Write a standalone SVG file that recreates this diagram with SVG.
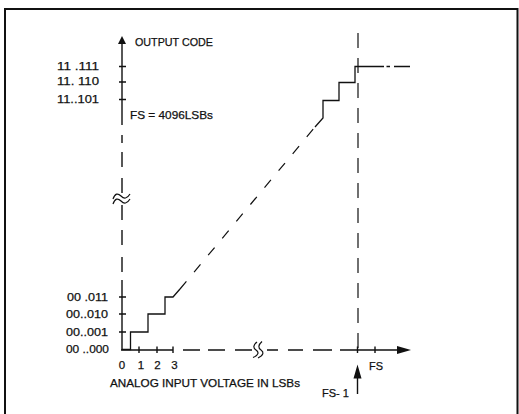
<svg xmlns="http://www.w3.org/2000/svg" width="519" height="414" viewBox="0 0 519 414">
<style>
text{font-family:"Liberation Sans Narrow","Liberation Sans",Arial,sans-serif;fill:#111;font-size:11.5px;stroke:#111;stroke-width:0.25}
.ax{stroke:#111;stroke-width:1.4;fill:none}
.st{stroke:#111;stroke-width:1.3;fill:none}
.dsh{stroke:#111;stroke-width:1.2;fill:none;stroke-dasharray:15 10}
.dg{stroke:#111;stroke-width:1.2;fill:none;stroke-dasharray:10 12}
.brk{stroke:#111;stroke-width:1.2;fill:none}
.ah{fill:#111;stroke:none}
</style>
<rect width="519" height="414" fill="#fff"/>
<g id="border">
<path d="M5,416 V9 H517.5 V416" stroke="#111" stroke-width="2" fill="none"/>
</g>
<g id="connectors">
<path class="ax" d="M122,43 V125 M122,135 V143 M122,152 V167 M122,178 V193 M122,205 V220 M122,230 V245 M122,257 V272 M122,280 V350"/>
<polygon class="ah" points="122,36 118,44 126,44"/>
<path class="ax" d="M119,66.5 H126 M119,82 H126 M119,99.5 H126 M119,297 H126 M119,314 H126 M119,332 H126"/>
<path class="brk" d="M113,199 C115,193 118,193 121,196 S127,199 130,194"/>
<path class="brk" d="M113,204 C115,198 118,198 121,201 S127,204 130,199"/>
<path class="ax" d="M121,350 H173 M183,350 H200 M208,350 H225 M235,350 H252 M267,350 H278 M288,350 H303 M313,350 H332 M340,350 H398"/>
<polygon class="ah" points="411,350 397,346 397,354"/>
<path class="ax" d="M139,346.5 V353 M157,346.5 V353 M173,346.5 V353 M357.5,346.5 V353 M375,346.5 V353"/>
<path class="brk" d="M257,342 C253,345 253,348 256,350 S259,355 253,357.5"/>
<path class="brk" d="M262,341.5 C258,345 258,348 261,350 S264,355 258,358"/>
<path class="dsh" d="M358,33 V354"/>
<polygon class="ah" points="357.5,364.5 353.5,378.5 361.5,378.5"/>
<path class="ax" d="M357.5,377 V394"/>
<path class="st" d="M122,349.5 H130.5 V332 H148 V314 H165 V297 H173 L180,289"/>
<path class="st" d="M315,127 L323,118 V100.5 H339 V82.5 H355 V66.5 H384 M386.5,66.5 H390 M394,66.5 H410"/>
<path class="dg" d="M180,289 L315,127"/>
</g>
<g id="y-labels">
<text x="135" y="46" font-size="12" textLength="78" lengthAdjust="spacingAndGlyphs">OUTPUT CODE</text>
<text x="57" y="70" textLength="42" lengthAdjust="spacingAndGlyphs">11 .111</text>
<text x="57" y="85" textLength="42" lengthAdjust="spacingAndGlyphs">11. 110</text>
<text x="57" y="102.5" textLength="42" lengthAdjust="spacingAndGlyphs">11..101</text>
<text x="130" y="119" font-size="12" textLength="83" lengthAdjust="spacingAndGlyphs">FS = 4096LSBs</text>
<text x="67" y="300.5" textLength="41" lengthAdjust="spacingAndGlyphs">00 .011</text>
<text x="66" y="317.5" textLength="42" lengthAdjust="spacingAndGlyphs">00..010</text>
<text x="66" y="335.5" textLength="42" lengthAdjust="spacingAndGlyphs">00..001</text>
<text x="66" y="352.5" textLength="43" lengthAdjust="spacingAndGlyphs">00 ..000</text>
</g>
<g id="x-labels">
<text x="122" y="369" font-size="12" text-anchor="middle">0</text>
<text x="141" y="369" font-size="12" text-anchor="middle">1</text>
<text x="157.5" y="369" font-size="12" text-anchor="middle">2</text>
<text x="174.5" y="369" font-size="12" text-anchor="middle">3</text>
<text x="110" y="386.5" font-size="12" textLength="190" lengthAdjust="spacingAndGlyphs">ANALOG INPUT VOLTAGE IN LSBs</text>
<text x="369" y="370" font-size="12.5" textLength="14" lengthAdjust="spacingAndGlyphs">FS</text>
<text x="322" y="397" font-size="12" textLength="27" lengthAdjust="spacingAndGlyphs">FS- 1</text>
</g>
</svg>
